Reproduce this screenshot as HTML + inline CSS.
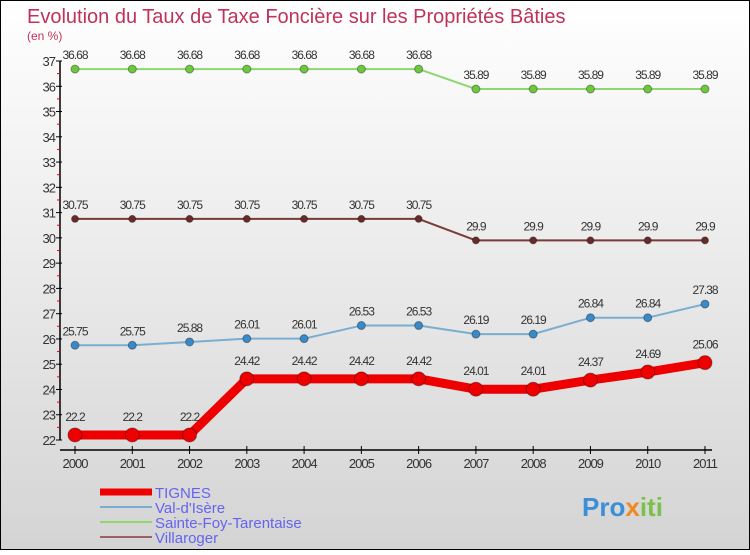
<!DOCTYPE html>
<html><head><meta charset="utf-8"><style>
body{margin:0;}
#c{width:750px;height:550px;position:relative;font-family:"Liberation Sans",sans-serif;}
</style></head><body>
<div id="c">
<svg id="s" width="750" height="550" xmlns="http://www.w3.org/2000/svg">
<defs><linearGradient id="bg" x1="0" y1="0" x2="0" y2="1"><stop offset="0" stop-color="#ffffff"/><stop offset="1" stop-color="#d4d4d4"/></linearGradient></defs>
<rect x="0.5" y="0.5" width="749" height="549" fill="url(#bg)" stroke="#000"/>
<text x="27" y="23" font-size="20" fill="#c0325a">Evolution du Taux de Taxe Foncière sur les Propriétés Bâties</text>
<text x="27" y="40" font-size="12" fill="#c0325a">(en %)</text>
<g id="axes"></g><g id="series"></g>
<g>
<line x1="100" y1="492" x2="152" y2="492" stroke="#e00" stroke-width="7"/>
<text x="155" y="498" font-size="15" fill="#6464f0">TIGNES</text>
<line x1="100" y1="507" x2="152" y2="507" stroke="#7aaed0" stroke-width="2"/>
<text x="155" y="513" font-size="15" fill="#6464f0">Val-d'Isère</text>
<line x1="100" y1="522" x2="152" y2="522" stroke="#8fd670" stroke-width="2"/>
<text x="155" y="528" font-size="15" fill="#6464f0">Sainte-Foy-Tarentaise</text>
<line x1="100" y1="537" x2="152" y2="537" stroke="#9a6262" stroke-width="2"/>
<text x="155" y="543" font-size="15" fill="#6464f0">Villaroger</text>
</g>
<text x="582" y="516" font-size="26" font-weight="bold" fill="#3a8fd8">Pro<tspan fill="#f08a20">x</tspan><tspan fill="#7ac04a">iti</tspan></text>
</svg>
</div>
<script>
const years=[2000,2001,2002,2003,2004,2005,2006,2007,2008,2009,2010,2011];
const tignes=[22.2,22.2,22.2,24.42,24.42,24.42,24.42,24.01,24.01,24.37,24.69,25.06];
const valDisere=[25.75,25.75,25.88,26.01,26.01,26.53,26.53,26.19,26.19,26.84,26.84,27.38];
const sainteFoy=[36.68,36.68,36.68,36.68,36.68,36.68,36.68,35.89,35.89,35.89,35.89,35.89];
const villaroger=[30.75,30.75,30.75,30.75,30.75,30.75,30.75,29.9,29.9,29.9,29.9,29.9];
const yTicks=[22,23,24,25,26,27,28,29,30,31,32,33,34,35,36,37];
const NS="http://www.w3.org/2000/svg";
const x=i=>75+i*(630/11);
const y=v=>440-(v-22)*(379/15);
function mk(tag,attrs,parent){const e=document.createElementNS(NS,tag);for(const k in attrs)e.setAttribute(k,attrs[k]);parent.appendChild(e);return e;}
const ax=document.getElementById('axes');
let l=mk('line',{x1:60,y1:y(37),x2:60,y2:y(22),stroke:'#000','stroke-width':1.5},ax);


l=mk('line',{x1:60,y1:450,x2:712,y2:450,stroke:'#000','stroke-width':1.5},ax);


yTicks.forEach(v=>{
 mk('line',{x1:56,y1:y(v),x2:62,y2:y(v),stroke:'#000'},ax);
 if(v<37)mk('line',{x1:57,y1:y(v+0.5),x2:60,y2:y(v+0.5),stroke:'#e00'},ax);
 const t=mk('text',{x:55,y:y(v)+5,'font-size':13,'text-anchor':'end',fill:'#333','letter-spacing':'-1'},ax);
 t.textContent=v;
 
 
});
years.forEach((yr,i)=>{
 mk('line',{x1:x(i),y1:446,x2:x(i),y2:454,stroke:'#000'},ax);
 const t=mk('text',{x:x(i),y:468,'font-size':13,'text-anchor':'middle',fill:'#333','letter-spacing':'-1'},ax);
 t.textContent=yr;
 
 
});
const sg=document.getElementById('series');
function draw(vals,color,ptColor,w,r,name){
 const g=mk('g',{},sg);
 
 
 const p=mk('polyline',{points:vals.map((v,i)=>x(i)+','+y(v)).join(' '),fill:'none',stroke:color,'stroke-width':w,'stroke-linejoin':'round'},g);
 
 
 vals.forEach((v,i)=>{
  const c=mk('circle',{cx:x(i),cy:y(v),r:r,fill:ptColor,stroke:'rgba(0,0,0,0.35)','stroke-width':1},g);
  
  
  const t=mk('text',{x:x(i),y:y(v)-10-(r>5?4:0),'font-size':12,'text-anchor':'middle',fill:'#333','letter-spacing':'-1'},g);
  t.textContent=v;
  
  
 });
}
draw(sainteFoy,'#8fd670','#6cc83c',2,4,'sainte-foy');
draw(villaroger,'#7a3a3a','#6a2a2a',2,3.5,'villaroger');
draw(valDisere,'#7aaed0','#3a8ac8',2,4,'val-disere');
draw(tignes,'#e00','#e00',9,7,'tignes');
</script>
</body></html>
